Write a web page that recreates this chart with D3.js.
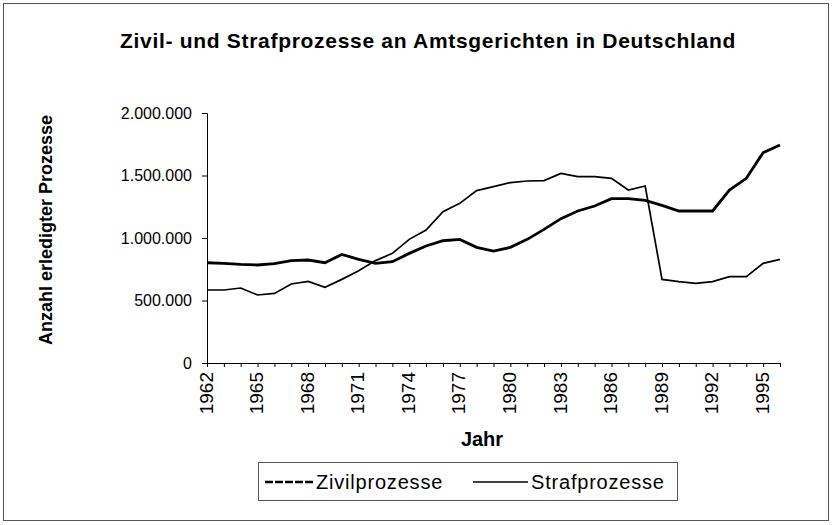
<!DOCTYPE html>
<html>
<head>
<meta charset="utf-8">
<script src="https://cdn.jsdelivr.net/npm/d3@7"></script>
<style>
  body { margin: 0; background: #fff; }
  text { font-family: "Liberation Sans", Arial, sans-serif; fill: #000; }
</style>
</head>
<body>
<div id="chart"></div>
<script>
var years = [1962, 1963, 1964, 1965, 1966, 1967, 1968, 1969, 1970, 1971, 1972, 1973,
             1974, 1975, 1976, 1977, 1978, 1979, 1980, 1981, 1982, 1983, 1984, 1985,
             1986, 1987, 1988, 1989, 1990, 1991, 1992, 1993, 1994, 1995, 1996];

var zivilprozesse = [802000, 797000, 789000, 784000, 795000, 819000, 824000, 802000, 869000,
                     829000, 797000, 810000, 877000, 936000, 978000, 989000, 925000, 896000,
                     925000, 989000, 1069000, 1155000, 1216000, 1256000, 1315000, 1315000,
                     1301000, 1261000, 1216000, 1216000, 1216000, 1384000, 1477000, 1683000,
                     1744000];

var strafprozesse = [584000, 584000, 600000, 544000, 557000, 632000, 653000, 605000, 669000,
                     738000, 819000, 877000, 989000, 1064000, 1211000, 1277000, 1379000,
                     1411000, 1443000, 1456000, 1459000, 1517000, 1491000, 1491000, 1477000,
                     1384000, 1416000, 669000, 651000, 637000, 651000, 691000, 691000, 797000,
                     829000];

var yTicks = [0, 500000, 1000000, 1500000, 2000000];
var xTickYears = [1962, 1965, 1968, 1971, 1974, 1977, 1980, 1983, 1986, 1989, 1992, 1995];

var seriesNames = ["Zivilprozesse", "Strafprozesse"];

var W = 833, H = 525;
var svg = d3.select("#chart").append("svg")
    .attr("width", W)
    .attr("height", H);

// outer chart frame
svg.append("rect")
    .attr("x", 3.5).attr("y", 3.5)
    .attr("width", 825).attr("height", 517)
    .attr("fill", "none")
    .attr("stroke", "#555")
    .attr("stroke-width", 1);

var x = d3.scaleLinear().domain([1962, 1996]).range([207, 780]);
var y = d3.scaleLinear().domain([0, 2000000]).range([363, 113]);

var fmt = function (v) {
    return d3.format(",")(v).replace(/,/g, ".");
};

// title
svg.append("text")
    .attr("x", 428).attr("y", 48)
    .attr("text-anchor", "middle")
    .style("font-size", "21px")
    .style("font-weight", "bold")
    .style("letter-spacing", "0.7px")
    .text("Zivil- und Strafprozesse an Amtsgerichten in Deutschland");

// y axis
var yAxis = svg.append("g")
    .attr("transform", "translate(207,0)")
    .call(d3.axisLeft(y).tickValues(yTicks).tickFormat(fmt).tickSize(5).tickPadding(10));
yAxis.select(".domain").attr("stroke", "#000");
yAxis.selectAll("text")
    .style("font-size", "16px")
    .style("font-family", "\"Liberation Sans\", Arial, sans-serif");

// x axis, minor tick each year
var xAxis = svg.append("g")
    .attr("transform", "translate(0,363)")
    .call(d3.axisBottom(x).tickValues(years).tickFormat("").tickSize(4).tickSizeOuter(0));
xAxis.select(".domain").attr("stroke", "#000");

svg.append("g").selectAll("text")
    .data(xTickYears)
    .enter().append("text")
    .attr("transform", function (d) { return "translate(" + x(d) + ",372) rotate(-90)"; })
    .attr("text-anchor", "end")
    .attr("dy", "0.3em")
    .style("font-size", "19px")
    .text(function (d) { return d; });

// axis titles
svg.append("text")
    .attr("x", 482).attr("y", 446)
    .attr("text-anchor", "middle")
    .style("font-size", "20px")
    .style("font-weight", "bold")
    .text("Jahr");

svg.append("text")
    .attr("transform", "translate(52,230) rotate(-90)")
    .attr("text-anchor", "middle")
    .style("font-size", "18px")
    .style("font-weight", "bold")
    .text("Anzahl erledigter Prozesse");

// lines
var line = d3.line()
    .x(function (d, i) { return x(years[i]); })
    .y(function (d) { return y(d); });

svg.append("path")
    .datum(strafprozesse)
    .attr("d", line)
    .attr("fill", "none")
    .attr("stroke", "#000")
    .attr("stroke-width", 1.7);

svg.append("path")
    .datum(zivilprozesse)
    .attr("d", line)
    .attr("fill", "none")
    .attr("stroke", "#000")
    .attr("stroke-width", 2.8);

// legend
var legend = svg.append("g");
legend.append("rect")
    .attr("x", 258.5).attr("y", 462.5)
    .attr("width", 419).attr("height", 38)
    .attr("fill", "none")
    .attr("stroke", "#555");

var legendItems = [
    { name: seriesNames[0], x0: 265, x1: 313, width: 2.6, dash: "8,2" },
    { name: seriesNames[1], x0: 473, x1: 528, width: 1.4, dash: null }
];
legendItems.forEach(function (it) {
    legend.append("line")
        .attr("x1", it.x0).attr("x2", it.x1)
        .attr("y1", 482).attr("y2", 482)
        .attr("stroke", "#000")
        .attr("stroke-width", it.width)
        .attr("stroke-dasharray", it.dash);
    legend.append("text")
        .attr("x", it.x1 + 3).attr("y", 489)
        .style("font-size", "20px")
        .style("letter-spacing", "0.8px")
        .text(it.name);
});
</script>
</body>
</html>
